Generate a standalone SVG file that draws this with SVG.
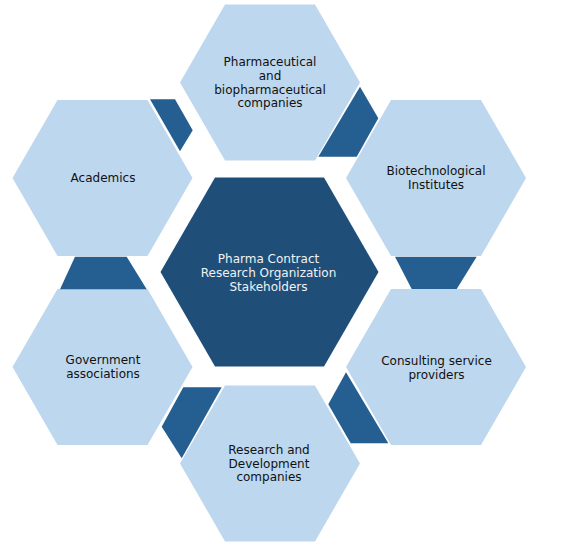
<svg xmlns="http://www.w3.org/2000/svg" width="578" height="546" viewBox="0 0 578 546">
<style>
.hex{fill:#BDD7EE;}
.core{fill:#1F4E79;}
.acc{fill:#255E91;}
text{font-family:"DejaVu Sans","Verdana",sans-serif;font-size:12px;text-anchor:middle;fill:#111111;}
.core-t{fill:#F2F2F2;}
</style>
<rect width="578" height="546" fill="#FFFFFF"/>
<g id="n-pharma">
<polygon class="hex" points="180,82.5 225,4.6 315,4.6 360,82.5 315,160.4 225,160.4"/>
<text x="270" y="66">Pharmaceutical</text>
<text x="270" y="80">and</text>
<text x="270" y="94">biopharmaceutical</text>
<text x="270" y="107">companies</text>
</g>
<g id="n-biotech">
<polygon class="hex" points="346,178 391,100.1 481,100.1 526,178 481,255.9 391,255.9"/>
<text x="436" y="175">Biotechnological</text>
<text x="436" y="189">Institutes</text>
</g>
<g id="n-academics">
<polygon class="hex" points="12.5,178 57.5,100.1 147.5,100.1 192.5,178 147.5,255.9 57.5,255.9"/>
<text x="103" y="182">Academics</text>
</g>
<g id="n-government">
<polygon class="hex" points="12.5,367 57.5,289.1 147.5,289.1 192.5,367 147.5,444.9 57.5,444.9"/>
<text x="103" y="364">Government</text>
<text x="103" y="378">associations</text>
</g>
<g id="n-consulting">
<polygon class="hex" points="346,367 391,289.1 481,289.1 526,367 481,444.9 391,444.9"/>
<text x="436.5" y="365">Consulting service</text>
<text x="436.5" y="379">providers</text>
</g>
<g id="n-rnd">
<polygon class="hex" points="180,463.5 225,385.6 315,385.6 360,463.5 315,541.4 225,541.4"/>
<text x="269" y="453.5">Research and</text>
<text x="269" y="467.5">Development</text>
<text x="269" y="481">companies</text>
</g>
<g id="n-center">
<polygon class="core" points="160.5,272 215,177.6 324,177.6 378.5,272 324,366.4 215,366.4"/>
<text class="core-t" x="268.5" y="262.5">Pharma Contract</text>
<text class="core-t" x="268.5" y="276.5">Research Organization</text>
<text class="core-t" x="268.5" y="290.5">Stakeholders</text>
</g>
<g id="connectors">
<polygon class="acc" points="360,86.7 378.3,118.3 356.7,156.7 318.3,156.7"/>
<polygon class="acc" points="395,256.7 476.7,256.7 456.7,289 411.7,289"/>
<polygon class="acc" points="346,372.3 328.3,404.3 350.7,443.3 388.3,443.3"/>
<polygon class="acc" points="183.3,387.3 221.7,387.3 181.7,458.3 161.7,426.7"/>
<polygon class="acc" points="75,256.7 126.7,256.7 146.7,289.3 60,289.3"/>
<polygon class="acc" points="150,99.3 175,99.3 192.7,130.3 180,151.3"/>
</g>
</svg>
